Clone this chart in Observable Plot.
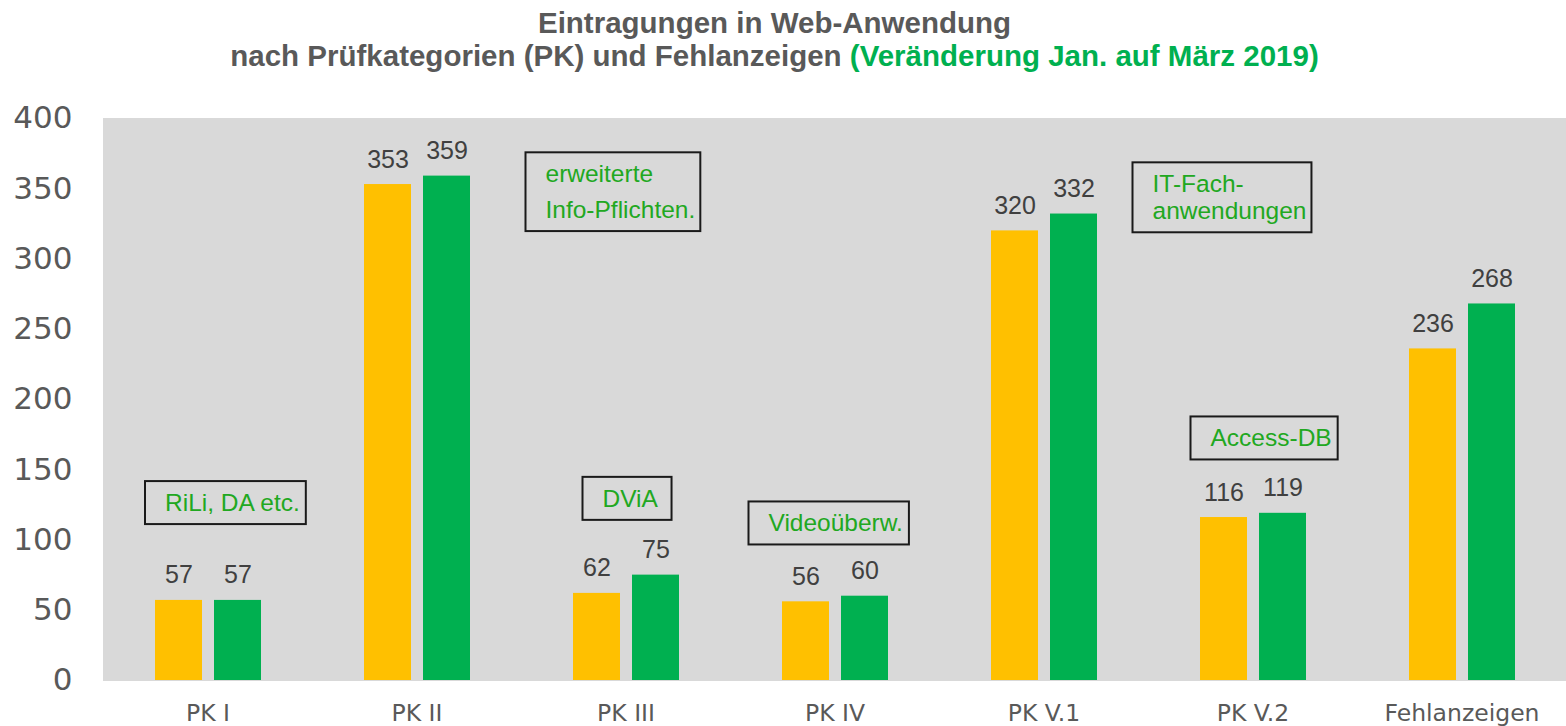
<!DOCTYPE html>
<html><head><meta charset="utf-8">
<script src="https://cdn.jsdelivr.net/npm/d3@7"></script>
<script src="https://cdn.jsdelivr.net/npm/@observablehq/plot@0.6"></script>
<style>
body{margin:0;background:#fff;}
#title{height:80px;box-sizing:border-box;padding-top:6px;padding-right:17px;text-align:center;font-family:"Liberation Sans",Arial,sans-serif;font-weight:bold;font-size:29.5px;line-height:33px;color:#595959;white-space:nowrap;}
#title .g{color:#00B050;}
#chart svg{overflow:visible;display:block;}
</style></head><body>
<div id="title">Eintragungen in Web-Anwendung<br>nach Prüfkategorien (PK) und Fehlanzeigen <span class="g">(Veränderung Jan. auf März 2019)</span></div>
<div id="chart"></div>
<script>
const categories = ["PK I", "PK II", "PK III", "PK IV", "PK V.1", "PK V.2", "Fehlanzeigen"];
const series = ["Januar 2019", "März 2019"];
const valuesJan = [57, 353, 62, 56, 320, 116, 236];
const valuesMar = [57, 359, 75, 60, 332, 119, 268];
const yTicks = [0, 50, 100, 150, 200, 250, 300, 350, 400];
const annotationTexts = ["RiLi, DA etc.", "erweiterte\nInfo-Pflichten.", "DViA", "Videoüberw.", "IT-Fach-\nanwendungen", "Access-DB"];
const annotationCategories = ["PK I", "PK III", "PK III", "PK IV", "PK V.2", "PK V.2"];
const annotationValues = [127, 350, 130, 112.5, 344, 173];

// presentation (pixel offsets / line heights for the annotation boxes)
const annotationDx = [-43, -80.5, -23.5, -66.5, -100.5, -42.5];
const annotationLineHeight = [1.15, 1.46, 1.15, 1.15, 1.1, 1.15];
const annotationRightPad = [6, 5, 13, 6, 5, 6];

const data = categories.flatMap((c, i) => [
  {cat: c, series: series[0], value: valuesJan[i]},
  {cat: c, series: series[1], value: valuesMar[i]}
]);
const annotations = annotationTexts.map((t, i) => ({text: t, cat: annotationCategories[i], value: annotationValues[i]}));

const annotationMarks = annotations.map((a, i) => Plot.text([a], {
  fx: "cat", y: "value", text: "text",
  frameAnchor: "middle", dx: annotationDx[i],
  textAnchor: "start", lineAnchor: "middle", lineHeight: annotationLineHeight[i],
  fontSize: 24.5, fontFamily: "Liberation Sans, Arial, sans-serif",
  fill: "#21A821"
}));

const plot = Plot.plot({
  width: 1566, height: 646,
  marginLeft: 103, marginRight: 0, marginTop: 38, marginBottom: 46,
  style: {background: "transparent", fontFamily: "'Liberation Sans', Arial, sans-serif", overflow: "visible"},
  fx: {domain: categories, padding: 0, label: null},
  x: {domain: series, paddingInner: 0.2, paddingOuter: 0.87, axis: null},
  y: {domain: [0, 400]},
  color: {domain: series, range: ["#FFC000", "#00B050"]},
  marks: [
    Plot.frame({fill: "#D9D9D9", stroke: "#D9D9D9"}),
    Plot.barY(data, {fx: "cat", x: "series", y: "value", fill: "series", dx: 1}),
    Plot.text(data, {fx: "cat", x: "series", y: "value", text: d => String(d.value), dy: -25, dx: 1,
      fontSize: 25, fill: "#404040", fontFamily: "Liberation Sans, Arial, sans-serif"}),
    Plot.axisY({ticks: yTicks, tickSize: 0, tickPadding: 31, fontSize: 31, fontFamily: "DejaVu Sans, sans-serif", color: "#595959", label: null}),
    Plot.axisFx({anchor: "bottom", tickSize: 0, tickPadding: 24, fontSize: 23.5, fontFamily: "DejaVu Sans, sans-serif", color: "#595959", label: null}),
    ...annotationMarks
  ]
});
document.getElementById("chart").append(plot);

// draw the boxes around the annotation texts
const svgNS = "http://www.w3.org/2000/svg";
const keys = annotationTexts.map(t => t.replace(/\n/g, ""));
plot.querySelectorAll("text").forEach(t => {
  const idx = keys.indexOf(t.textContent);
  if (idx < 0) return;
  const bb = t.getBBox();
  const r = document.createElementNS(svgNS, "rect");
  r.setAttribute("x", bb.x - 20);
  r.setAttribute("y", bb.y - 8);
  r.setAttribute("width", bb.width + 20 + annotationRightPad[idx]);
  r.setAttribute("height", bb.height + 16);
  r.setAttribute("fill", "none");
  r.setAttribute("stroke", "#1a1a1a");
  r.setAttribute("stroke-width", 2);
  if (t.getAttribute("transform")) r.setAttribute("transform", t.getAttribute("transform"));
  t.parentNode.insertBefore(r, t);
});
</script>
</body></html>
